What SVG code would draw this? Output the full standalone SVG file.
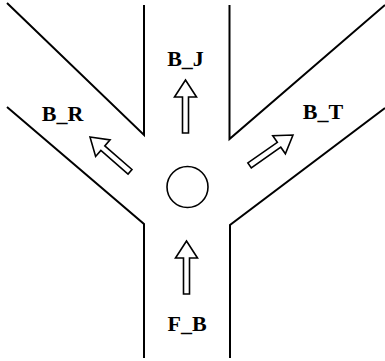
<svg xmlns="http://www.w3.org/2000/svg" width="385" height="361" viewBox="0 0 385 361">
  <style>
    .road { fill: none; stroke: #000; stroke-width: 2; stroke-linejoin: miter; }
    .arrow { fill: #fff; stroke: #000; stroke-width: 1.6; stroke-linejoin: miter; }
    .label { font-family: "Liberation Serif", "Times New Roman", serif; font-weight: bold; font-size: 22px; fill: #000; text-anchor: middle; }
    .hub { fill: #fff; stroke: #000; stroke-width: 1.6; }
  </style>
  <defs>
    <!-- hollow block arrow, tip at origin, pointing up -->
    <path id="blockArrow" d="M0,0 L11,17 L3,17 L3,53 L-3,53 L-3,17 L-11,17 Z"/>
  </defs>
  <rect width="385" height="361" fill="#fff"/>

  <!-- road edges -->
  <g id="connectors">
    <polyline class="road" points="7,3 144,135 144,5"/>
    <polyline class="road" points="7,107 144,224 144,358"/>
    <polyline class="road" points="229.5,5 229.5,139 385,5"/>
    <polyline class="road" points="385,108 230,225 230,358"/>
  </g>

  <g id="center">
    <circle class="hub" cx="187.5" cy="187" r="20.5"/>
  </g>

  <g id="B_J">
    <use href="#blockArrow" class="arrow" transform="translate(185.5,80)"/>
    <text class="label" x="185.5" y="65.5">B_J</text>
  </g>

  <g id="B_R">
    <use href="#blockArrow" class="arrow" transform="translate(90,137) rotate(-49)"/>
    <text class="label" x="62.5" y="121">B_R</text>
  </g>

  <g id="B_T">
    <use href="#blockArrow" class="arrow" transform="translate(293,135) rotate(55)"/>
    <text class="label" x="323" y="119">B_T</text>
  </g>

  <g id="F_B">
    <use href="#blockArrow" class="arrow" transform="translate(186.5,241)"/>
    <text class="label" x="187" y="331">F_B</text>
  </g>
</svg>
